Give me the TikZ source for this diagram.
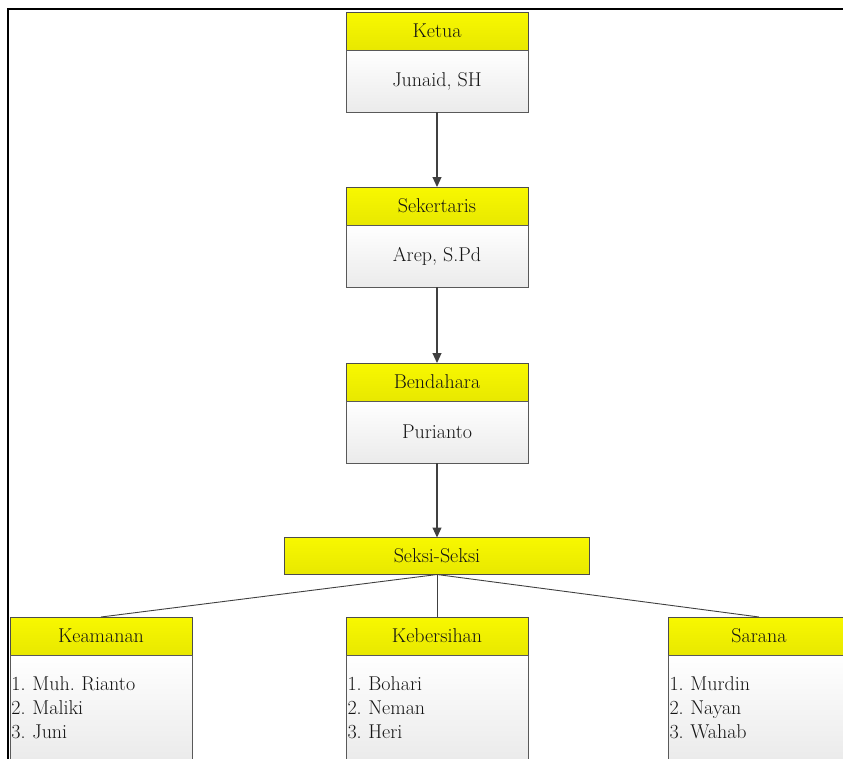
\documentclass[tikz,border=0pt]{standalone}
\usetikzlibrary{arrows.meta,positioning}
\definecolor{judulkuning}{RGB}{248,248,0}
\definecolor{judulgelap}{RGB}{232,232,0}
\definecolor{garisabu}{RGB}{64,64,64}
\definecolor{teksabu}{RGB}{20,20,20}

\begin{document}
\frenchspacing
\begin{tikzpicture}[x=1pt,y=-1pt,
  judul/.style={draw=black!70,line width=1pt,top color=judulkuning,bottom color=judulgelap,minimum width=182pt,minimum height=38pt,inner sep=0pt,outer sep=0pt,text=teksabu,font=\fontsize{20}{23}\selectfont},
  isi/.style={draw=black!65,line width=1pt,top color=white,bottom color=black!8,minimum width=182pt,minimum height=62pt,inner sep=0pt,outer sep=0pt,text=teksabu,font=\fontsize{20}{23}\selectfont},
  daftar/.style={isi,minimum height=106pt,text width=179pt,align=left,font=\fontsize{20}{24}\selectfont},
  panah/.style={draw=garisabu,line width=1.1pt,-{Triangle[length=10pt,width=9pt]}},
  cabang/.style={draw=garisabu,line width=0.9pt}]
\useasboundingbox (0,0) rectangle (843,758);
\clip (0,0) rectangle (843,758);
\draw[line width=2.6pt] (8,760) -- (8,9) -- (845,9);
\node[judul](ketua) at (437,31){Ketua};
\node[isi,below=0pt of ketua](ketuaisi){Junaid, SH};
\node[judul](sekretaris) at (437,206){Sekertaris};
\node[isi,below=0pt of sekretaris](sekretarisisi){Arep, S.Pd};
\node[judul](bendahara) at (437,382){Bendahara};
\node[isi,below=0pt of bendahara](bendaharaisi){Purianto};
\node[judul,minimum width=305pt,minimum height=37pt](seksi) at (437,556){Seksi-Seksi};
\node[judul](keamanan) at (101,636){Keamanan};
\node[daftar,below=0pt of keamanan](keamananisi){1. Muh. Rianto\\2. Maliki\\3. Juni};
\node[judul](kebersihan) at (437,636){Kebersihan};
\node[daftar,below=0pt of kebersihan](kebersihanisi){1. Bohari\\2. Neman\\3. Heri};
\node[judul](sarana) at (759,636){Sarana};
\node[daftar,below=0pt of sarana](saranaisi){1. Murdin\\2. Nayan\\3. Wahab};
\draw[panah](ketuaisi)--(sekretaris);
\draw[panah](sekretarisisi)--(bendahara);
\draw[panah](bendaharaisi)--(seksi);
\draw[cabang](seksi.south)--(keamanan.north);
\draw[cabang](seksi.south)--(kebersihan.north);
\draw[cabang](seksi.south)--(sarana.north);
\end{tikzpicture}
\end{document}
